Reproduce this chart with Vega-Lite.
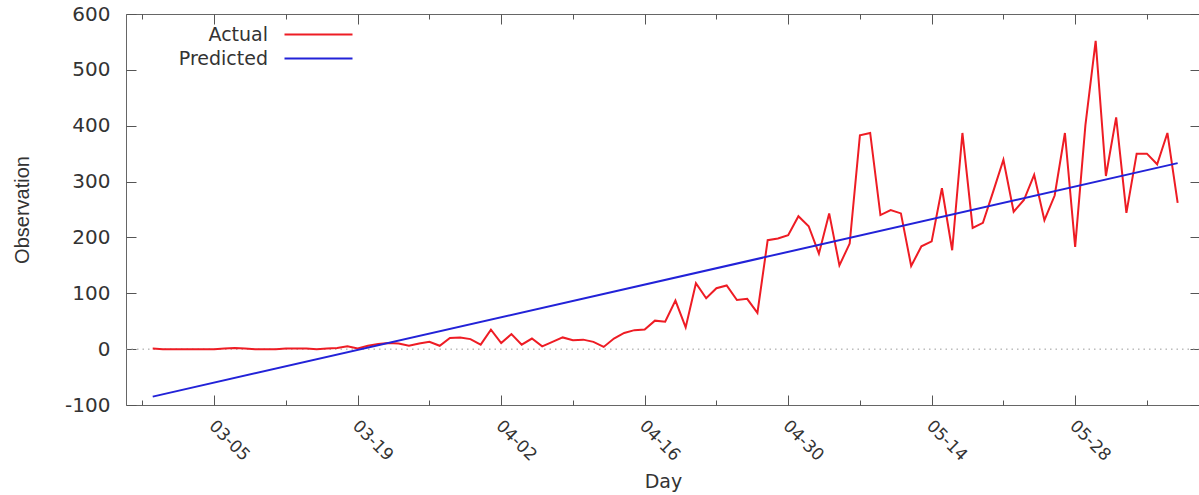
{
  "$schema": "https://vega.github.io/schema/vega-lite/v6.json",
  "width": 1074,
  "height": 391,
  "autosize": {"type": "none"},
  "padding": {"left": 126, "top": 14, "right": 0, "bottom": 90},
  "background": "white",
  "config": {
    "view": {"stroke": "#666", "strokeWidth": 1},
    "font": "DejaVu Sans",
    "axis": {
      "domain": false,
      "grid": false,
      "tickColor": "#555",
      "tickWidth": 1,
      "labelColor": "#333",
      "titleColor": "#333",
      "labelFont": "DejaVu Sans",
      "titleFont": "DejaVu Sans",
      "titleFontWeight": "normal"
    },
    "legend": {
      "orient": "none",
      "legendX": 183,
      "legendY": 11,
      "symbolType": "M-4,0H4",
      "symbolSize": 289,
      "symbolStrokeWidth": 2,
      "labelAlign": "right",
      "labelOffset": -60,
      "symbolOffset": 0,
      "labelFont": "DejaVu Sans",
      "labelFontSize": 19,
      "labelColor": "#333",
      "rowPadding": 4,
      "padding": 0
    }
  },
  "datasets": {
    "actual": [
      {"date": "2020-02-28", "value": 1},
      {"date": "2020-02-29", "value": 0},
      {"date": "2020-03-01", "value": 0},
      {"date": "2020-03-02", "value": 0},
      {"date": "2020-03-03", "value": 0},
      {"date": "2020-03-04", "value": 0},
      {"date": "2020-03-05", "value": 0},
      {"date": "2020-03-06", "value": 1},
      {"date": "2020-03-07", "value": 2},
      {"date": "2020-03-08", "value": 1},
      {"date": "2020-03-09", "value": 0},
      {"date": "2020-03-10", "value": 0},
      {"date": "2020-03-11", "value": 0},
      {"date": "2020-03-12", "value": 1},
      {"date": "2020-03-13", "value": 1},
      {"date": "2020-03-14", "value": 1},
      {"date": "2020-03-15", "value": 0},
      {"date": "2020-03-16", "value": 1},
      {"date": "2020-03-17", "value": 2},
      {"date": "2020-03-18", "value": 5},
      {"date": "2020-03-19", "value": 1},
      {"date": "2020-03-20", "value": 6},
      {"date": "2020-03-21", "value": 9},
      {"date": "2020-03-22", "value": 11},
      {"date": "2020-03-23", "value": 10},
      {"date": "2020-03-24", "value": 6},
      {"date": "2020-03-25", "value": 10},
      {"date": "2020-03-26", "value": 13},
      {"date": "2020-03-27", "value": 6},
      {"date": "2020-03-28", "value": 20},
      {"date": "2020-03-29", "value": 21},
      {"date": "2020-03-30", "value": 18},
      {"date": "2020-03-31", "value": 8},
      {"date": "2020-04-01", "value": 35},
      {"date": "2020-04-02", "value": 11},
      {"date": "2020-04-03", "value": 27},
      {"date": "2020-04-04", "value": 8},
      {"date": "2020-04-05", "value": 19},
      {"date": "2020-04-06", "value": 5},
      {"date": "2020-04-07", "value": 13},
      {"date": "2020-04-08", "value": 21},
      {"date": "2020-04-09", "value": 16},
      {"date": "2020-04-10", "value": 17},
      {"date": "2020-04-11", "value": 13},
      {"date": "2020-04-12", "value": 4},
      {"date": "2020-04-13", "value": 19},
      {"date": "2020-04-14", "value": 29},
      {"date": "2020-04-15", "value": 34},
      {"date": "2020-04-16", "value": 35},
      {"date": "2020-04-17", "value": 51},
      {"date": "2020-04-18", "value": 49},
      {"date": "2020-04-19", "value": 87},
      {"date": "2020-04-20", "value": 39},
      {"date": "2020-04-21", "value": 118},
      {"date": "2020-04-22", "value": 91},
      {"date": "2020-04-23", "value": 109},
      {"date": "2020-04-24", "value": 114},
      {"date": "2020-04-25", "value": 88},
      {"date": "2020-04-26", "value": 90},
      {"date": "2020-04-27", "value": 65},
      {"date": "2020-04-28", "value": 195},
      {"date": "2020-04-29", "value": 198},
      {"date": "2020-04-30", "value": 204},
      {"date": "2020-05-01", "value": 238},
      {"date": "2020-05-02", "value": 220},
      {"date": "2020-05-03", "value": 171},
      {"date": "2020-05-04", "value": 243},
      {"date": "2020-05-05", "value": 150},
      {"date": "2020-05-06", "value": 189},
      {"date": "2020-05-07", "value": 383},
      {"date": "2020-05-08", "value": 387},
      {"date": "2020-05-09", "value": 240},
      {"date": "2020-05-10", "value": 249},
      {"date": "2020-05-11", "value": 243},
      {"date": "2020-05-12", "value": 149},
      {"date": "2020-05-13", "value": 184},
      {"date": "2020-05-14", "value": 193},
      {"date": "2020-05-15", "value": 288},
      {"date": "2020-05-16", "value": 177},
      {"date": "2020-05-17", "value": 387},
      {"date": "2020-05-18", "value": 217},
      {"date": "2020-05-19", "value": 226},
      {"date": "2020-05-20", "value": 282},
      {"date": "2020-05-21", "value": 339},
      {"date": "2020-05-22", "value": 246},
      {"date": "2020-05-23", "value": 267},
      {"date": "2020-05-24", "value": 312},
      {"date": "2020-05-25", "value": 231},
      {"date": "2020-05-26", "value": 275},
      {"date": "2020-05-27", "value": 387},
      {"date": "2020-05-28", "value": 183},
      {"date": "2020-05-29", "value": 401},
      {"date": "2020-05-30", "value": 552},
      {"date": "2020-05-31", "value": 310},
      {"date": "2020-06-01", "value": 415},
      {"date": "2020-06-02", "value": 244},
      {"date": "2020-06-03", "value": 350},
      {"date": "2020-06-04", "value": 350},
      {"date": "2020-06-05", "value": 331},
      {"date": "2020-06-06", "value": 387},
      {"date": "2020-06-07", "value": 262}
    ],
    "predicted": [
      {"date": "2020-02-28", "value": -85},
      {"date": "2020-06-07", "value": 333}
    ]
  },
  "layer": [
    {
      "data": {"values": [{"value": 0}]},
      "mark": {"type": "rule", "color": "#9a9a9a", "strokeWidth": 1, "strokeDash": [1.5, 4]},
      "encoding": {
        "y": {"field": "value", "type": "quantitative", "axis": null}
      }
    },
    {
      "data": {"name": "actual"},
      "mark": {"type": "line", "strokeWidth": 2},
      "encoding": {
        "x": {
          "field": "date",
          "type": "temporal",
          "scale": {"type": "utc", "domain": [1582622928000, 1591676352000]},
          "axis": {
            "orient": "bottom",
            "title": "Day",
            "titleFontSize": 19,
            "titlePadding": 9,
            "values": [1582761600000, 1583366400000, 1583971200000, 1584576000000, 1585180800000, 1585785600000, 1586390400000, 1586995200000, 1587600000000, 1588204800000, 1588809600000, 1589414400000, 1590019200000, 1590624000000, 1591228800000],
            "labelExpr": "round((datum.value - 1582761600000)/86400000) % 14 == 7 ? utcFormat(datum.value, '%m-%d') : ''",
            "tickSize": {"condition": {"test": "round((datum.value - 1582761600000)/86400000) % 14 == 7", "value": -10}, "value": -5},
            "labelAngle": 45,
            "labelAlign": "left",
            "labelBaseline": "middle",
            "labelPadding": 28,
            "labelOffset": -3,
            "labelFontSize": 17,
            "labelOverlap": false
          }
        },
        "y": {
          "field": "value",
          "type": "quantitative",
          "scale": {"domain": [-100, 600], "nice": false, "zero": false},
          "axis": {
            "orient": "left",
            "values": [-100, 0, 100, 200, 300, 400, 500, 600],
            "labelExpr": "datum.value < 0 ? '-' + abs(datum.value) : '' + datum.value",
            "tickSize": -10,
            "labelPadding": 26,
            "labelFontSize": 20,
            "title": "Observation",
            "titleFont": "Liberation Sans",
            "titleFontSize": 20,
            "titlePadding": 32
          }
        },
        "color": {
          "datum": "Actual",
          "type": "nominal",
          "scale": {"domain": ["Actual", "Predicted"], "range": ["#ee1c24", "#2222d8"]},
          "legend": {"title": null}
        }
      }
    },
    {
      "data": {"name": "predicted"},
      "mark": {"type": "line", "strokeWidth": 2},
      "encoding": {
        "x": {
          "field": "date",
          "type": "temporal",
          "axis": {
            "orient": "top",
            "title": null,
            "labels": false,
            "values": [1582761600000, 1583366400000, 1583971200000, 1584576000000, 1585180800000, 1585785600000, 1586390400000, 1586995200000, 1587600000000, 1588204800000, 1588809600000, 1589414400000, 1590019200000, 1590624000000, 1591228800000],
            "tickSize": {"condition": {"test": "round((datum.value - 1582761600000)/86400000) % 14 == 7", "value": -10}, "value": -5}
          }
        },
        "y": {
          "field": "value",
          "type": "quantitative",
          "axis": {
            "orient": "right",
            "title": null,
            "labels": false,
            "values": [-100, 0, 100, 200, 300, 400, 500, 600],
            "tickSize": -10
          }
        },
        "color": {"datum": "Predicted", "type": "nominal"}
      }
    }
  ],
  "resolve": {"axis": {"x": "independent", "y": "independent"}}
}
